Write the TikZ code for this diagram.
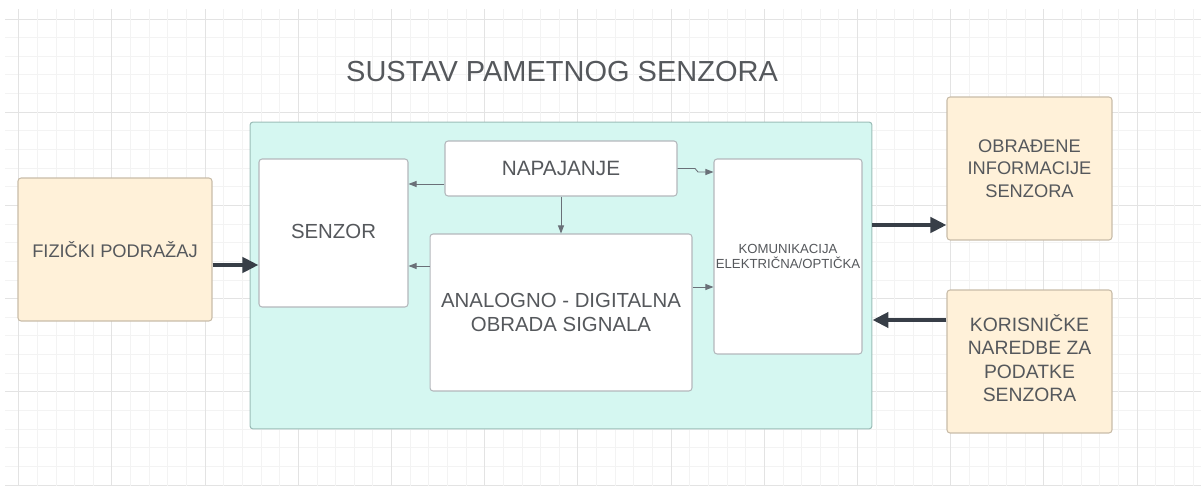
\documentclass[tikz,border=0pt]{standalone}
\usepackage{fontspec}
\setmainfont{Liberation Sans}
\usepackage{tikz}
\usetikzlibrary{arrows.meta,positioning}

\definecolor{gridminor}{HTML}{F3F3F3}
\definecolor{gridmajor}{HTML}{E3E3E3}
\definecolor{tealfill}{HTML}{D5F7F1}
\definecolor{tealline}{HTML}{9BBDB8}
\definecolor{orangefill}{HTML}{FFF1D9}
\definecolor{orangeline}{HTML}{C8BCA8}
\definecolor{boxline}{HTML}{B4B8BC}
\definecolor{txtgray}{HTML}{55585C}
\definecolor{arrdark}{HTML}{373E47}
\definecolor{arrthin}{HTML}{6A7078}

\tikzset{
  whitebox/.style={draw=boxline,fill=white,rounded corners=0.06cm,line width=0.6pt,
    text=txtgray,align=center,inner sep=0pt},
  orangebox/.style={draw=orangeline,fill=orangefill,rounded corners=0.06cm,line width=0.6pt,
    text=txtgray,align=center,inner sep=0pt},
  thinarr/.style={draw=arrthin,line width=0.5pt,-{Triangle[length=0.16cm,width=0.12cm]}},
  bigarr/.style={draw=arrdark,line width=2.4pt,-{Triangle[length=0.32cm,width=0.3cm]}}
}

\begin{document}
\begin{tikzpicture}[x=0.02cm,y=-0.02cm]
        \useasboundingbox (0,0) rectangle (1201,486);
        % the grid
        \foreach \k in {0,...,25}
        {
          \pgfmathsetmacro{\yy}{19+18.64*\k}
          \pgfmathtruncatemacro{\m}{mod(\k,5)}
          \ifnum\m=0 \draw[gridmajor,line width=0.5pt] (5,\yy) -- (1201,\yy);
          \else \draw[gridminor,line width=0.5pt] (5,\yy) -- (1201,\yy); \fi
        }
        \foreach \k in {0,...,63}
        {
          \pgfmathsetmacro{\xx}{18.7+18.64*\k}
          \pgfmathtruncatemacro{\m}{mod(\k,5)}
          \ifnum\m=0 \draw[gridmajor,line width=0.5pt] (\xx,9) -- (\xx,486);
          \else \draw[gridminor,line width=0.5pt] (\xx,9) -- (\xx,486); \fi
        }

        % title
        \node[text=txtgray,font=\fontsize{16.5}{19}\selectfont] (title) at (562,72) {SUSTAV PAMETNOG SENZORA};

        % the system
        \node[draw=tealline,fill=tealfill,rounded corners=0.06cm,line width=0.6pt,
          minimum width=12.44cm,minimum height=6.14cm] (sustav) at (561,275.5) {};
        \node[whitebox,minimum width=2.98cm,minimum height=2.96cm,font=\fontsize{11.6}{14}\selectfont]
          (senzor) at (333.5,233) {\raisebox{0.06cm}{SENZOR}};
        \node[whitebox,minimum width=4.64cm,minimum height=1.1cm,font=\fontsize{11.8}{14}\selectfont]
          (napajanje) at (561,168.5) {NAPAJANJE};
        \node[whitebox,minimum width=5.24cm,minimum height=3.14cm,font=\fontsize{11.6}{14.2}\selectfont]
          (obrada) at (561,312.5) {ANALOGNO - DIGITALNA\\OBRADA SIGNALA};
        \node[whitebox,minimum width=2.96cm,minimum height=3.9cm,font=\fontsize{7.5}{8.9}\selectfont]
          (komunikacija) at (788,256.5) {KOMUNIKACIJA\\ELEKTRIČNA/OPTIČKA};

        % outside
        \node[orangebox,minimum width=3.88cm,minimum height=2.86cm,font=\fontsize{10.4}{12.5}\selectfont]
          (podrazaj) at (115,249.5) {FIZIČKI PODRAŽAJ};
        \node[orangebox,minimum width=3.3cm,minimum height=2.86cm,font=\fontsize{10.4}{12.8}\selectfont]
          (informacije) at (1029.5,168.5) {OBRAĐENE\\INFORMACIJE\\SENZORA};
        \node[orangebox,minimum width=3.3cm,minimum height=2.86cm,font=\fontsize{11}{13.4}\selectfont]
          (naredbe) at (1029.5,361.5) {\raisebox{0.04cm}{\begin{tabular}{@{}c@{}}KORISNIČKE\\NAREDBE ZA\\PODATKE\\SENZORA\end{tabular}}};

        % connectors
        \draw[thinarr] (napajanje.west |- 0,184) -- (senzor.east |- 0,184);
        \draw[thinarr] (napajanje.south) -- (obrada.north);
        \draw[thinarr] (obrada.west |- 0,266) -- (senzor.east |- 0,266);
        \draw[thinarr] (obrada.east |- 0,287) -- (komunikacija.west |- 0,287);
        \draw[thinarr] (napajanje.east) -- (695,168.5) -- (698,172) -- (komunikacija.west |- 0,172);

        \draw[bigarr] (podrazaj.east |- 0,265) -- (senzor.west |- 0,265);
        \draw[bigarr] (sustav.east |- 0,225) -- (informacije.west |- 0,225);
        \draw[bigarr] (naredbe.west |- 0,320) -- (sustav.east |- 0,320);
\end{tikzpicture}
\end{document}
